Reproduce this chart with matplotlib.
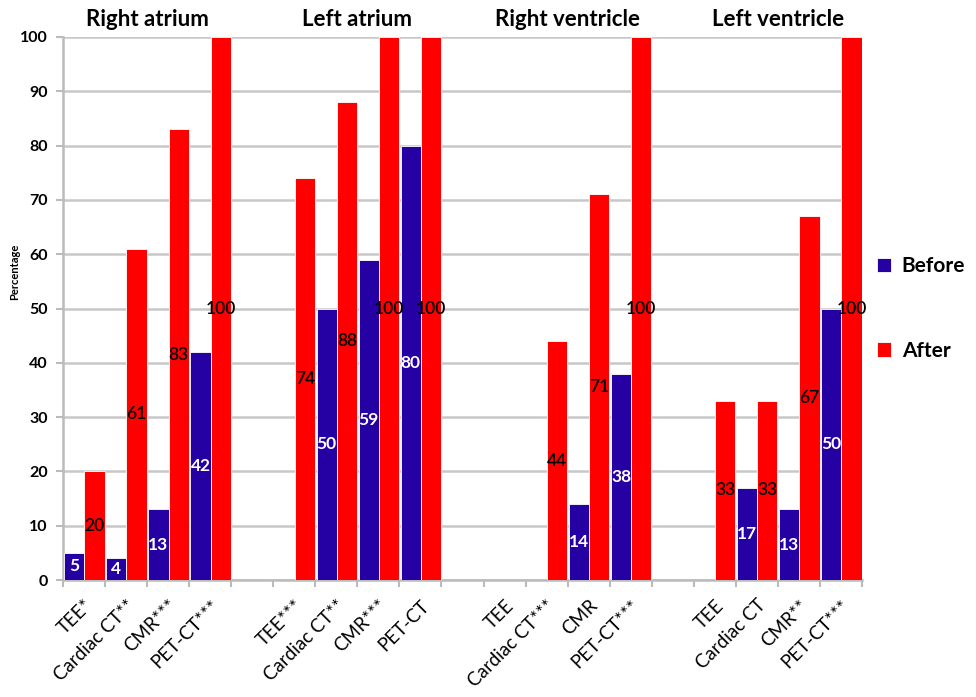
import matplotlib
matplotlib.use("Agg")
import matplotlib.pyplot as plt
import numpy as np

groups = ["Right atrium", "Left atrium", "Right ventricle", "Left ventricle"]
modalities = [
    ["TEE*", "Cardiac CT**", "CMR***", "PET-CT***"],
    ["TEE***", "Cardiac CT**", "CMR***", "PET-CT"],
    ["TEE", "Cardiac CT***", "CMR", "PET-CT***"],
    ["TEE", "Cardiac CT", "CMR**", "PET-CT***"],
]
before = [
    [5, 4, 13, 42],
    [0, 50, 59, 80],
    [0, 0, 14, 38],
    [0, 17, 13, 50],
]
after = [
    [20, 61, 83, 100],
    [74, 88, 100, 100],
    [0, 44, 71, 100],
    [33, 33, 67, 100],
]

BLUE = "#2500A3"
RED = "#FF0000"
FONT = ["Lato", "DejaVu Sans"]
plt.rcParams["font.family"] = FONT

fig = plt.figure(figsize=(9.76, 6.97), dpi=100)
ax = fig.add_axes([63/976, 1-580/697, (862-63)/976, (580-37)/697])

positions = []
labels = []
bvals = []
avals = []
slot = 0
for g in range(len(groups)):
    for m in range(4):
        positions.append(slot)
        labels.append(modalities[g][m])
        bvals.append(before[g][m])
        avals.append(after[g][m])
        slot += 1
    slot += 1
nslots = slot - 1
positions = np.array(positions)

w = 0.48
bb = ax.bar(positions + 0.03, bvals, width=w, align="edge", color=BLUE,
            edgecolor="white", linewidth=0.6, label="Before", zorder=3)
ba = ax.bar(positions + 0.03 + w, avals, width=w, align="edge", color=RED,
            edgecolor="white", linewidth=0.6, label="After", zorder=3)

for rect, v in zip(bb, bvals):
    if v > 0:
        ax.text(rect.get_x() + rect.get_width()/2, v/2, str(v), ha="center",
                va="center", color="white", fontsize=12.5, fontweight="bold", zorder=4)
for rect, v in zip(ba, avals):
    if v > 0:
        ax.text(rect.get_x() + rect.get_width()/2, v/2, str(v), ha="center",
                va="center", color="black", fontsize=12.5, fontweight="semibold", zorder=4)

ax.set_xlim(0, nslots)
ax.set_ylim(0, 100)
ax.set_yticks(np.arange(0, 101, 10))
ax.set_yticklabels([str(v) for v in range(0, 101, 10)], fontsize=11.5, fontweight="bold")
ax.set_xticks(np.arange(0, nslots + 1, 1))
ax.set_xticklabels([])
ax.set_xticks(positions + 0.5, minor=True)
ax.set_xticklabels(labels, minor=True, rotation=45, ha="right",
                   rotation_mode="anchor", fontsize=13.5)
ax.tick_params(axis="x", which="minor", length=0, pad=12)
ax.tick_params(axis="x", which="major", length=5, color="#BBBBBB", width=1.5)
ax.tick_params(axis="y", length=5, color="#BBBBBB", width=1.5, pad=6)
ax.yaxis.grid(True, color="#C8C8C8", linewidth=1.8, zorder=0)
ax.set_axisbelow(True)
for s in ["top", "right"]:
    ax.spines[s].set_visible(False)
for s in ["left", "bottom"]:
    ax.spines[s].set_color("#BBBBBB")
    ax.spines[s].set_linewidth(1.8)

ax.set_ylabel("Percentage", fontsize=8, fontweight="bold")
ax.yaxis.set_label_coords(-0.054, 0.567)

for g, name in enumerate(groups):
    start = g * 5
    ax.text(start + 2, 101.3, name, ha="center", va="bottom", fontsize=16,
            fontweight="bold", transform=ax.transData)

leg = ax.legend(loc="center left", bbox_to_anchor=(0.995, 0.50), frameon=False,
                prop={"family": FONT, "size": 15, "weight": "bold"},
                handlelength=0.7, handleheight=0.7, handletextpad=0.5,
                labelspacing=3.1)

fig.savefig("out.png", dpi=100)
